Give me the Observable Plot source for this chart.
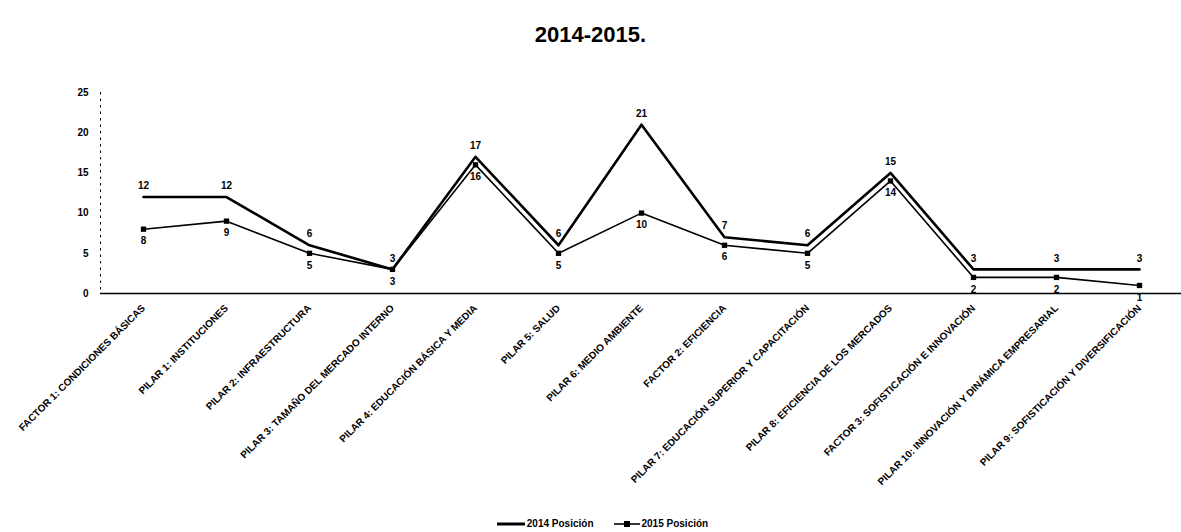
<!DOCTYPE html>
<html>
<head>
<meta charset="utf-8">
<script src="https://cdn.jsdelivr.net/npm/d3@7"></script>
<script src="https://cdn.jsdelivr.net/npm/@observablehq/plot@0.6"></script>
<style>
  html, body { margin: 0; padding: 0; background: #fff; }
  body { width: 1181px; font-family: "Liberation Sans", Arial, sans-serif; color: #000; }
  #title { height: 60px; box-sizing: border-box; padding-top: 24px; text-align: center;
           font-size: 22px; line-height: 22px; font-weight: bold; }
  #chart svg { display: block; }
  #legend { display: flex; justify-content: center; align-items: center; gap: 20px;
            font-size: 10px; font-weight: bold; margin-top: 23px; padding-left: 24px; }
  .item { display: flex; align-items: center; gap: 2px; }
</style>
</head>
<body>
<div id="title">2014-2015.</div>
<div id="chart"></div>
<div id="legend"></div>
<script>
const categories = [
  "FACTOR 1: CONDICIONES BÁSICAS",
  "PILAR 1: INSTITUCIONES",
  "PILAR 2: INFRAESTRUCTURA",
  "PILAR 3: TAMAÑO DEL MERCADO INTERNO",
  "PILAR 4: EDUCACIÓN BÁSICA Y MEDIA",
  "PILAR 5: SALUD",
  "PILAR 6: MEDIO AMBIENTE",
  "FACTOR 2: EFICIENCIA",
  "PILAR 7: EDUCACIÓN SUPERIOR Y CAPACITACIÓN",
  "PILAR 8: EFICIENCIA DE LOS MERCADOS",
  "FACTOR 3: SOFISTICACIÓN E INNOVACIÓN",
  "PILAR 10: INNOVACIÓN Y DINÁMICA EMPRESARIAL",
  "PILAR 9: SOFISTICACIÓN Y DIVERSIFICACIÓN"
];
const seriesNames = ["2014 Posición", "2015 Posición"];
const serie1 = [12, 12, 6, 3, 17, 6, 21, 7, 6, 15, 3, 3, 3];
const serie2 = [8, 9, 5, 3, 16, 5, 10, 6, 5, 14, 2, 2, 1];
const yTicks = [0, 5, 10, 15, 20, 25];

const d1 = categories.map((c, i) => ({cat: c, serie: seriesNames[0], value: serie1[i]}));
const d2 = categories.map((c, i) => ({cat: c, serie: seriesNames[1], value: serie2[i]}));

const chart = Plot.plot({
  width: 1181,
  height: 435,
  marginLeft: 100,
  marginRight: 0,
  marginTop: 32,
  marginBottom: 202,
  style: {fontFamily: "'Liberation Sans', Arial, sans-serif", fontSize: "10px", fontWeight: "bold", color: "#000", background: "#fff"},
  x: {type: "point", domain: categories, padding: 0.5, label: null},
  y: {domain: [0, 25], label: null},
  marks: [
    Plot.axisY({ticks: yTicks, tickSize: 0, tickPadding: 12, label: null}),
    Plot.axisX({tickSize: 0, tickPadding: 13, tickRotate: -45, label: null}),
    Plot.frame({anchor: "left", stroke: "#000", strokeDasharray: "1.5,5"}),
    Plot.ruleY([0], {stroke: "#000", strokeWidth: 1.3}),
    Plot.line(d1, {x: "cat", y: "value", stroke: "#000", strokeWidth: 2.6}),
    Plot.line(d2, {x: "cat", y: "value", stroke: "#000", strokeWidth: 1.6}),
    Plot.dot(d2, {x: "cat", y: "value", symbol: "square", r: 3, fill: "#000"}),
    Plot.text(d1, {x: "cat", y: "value", text: "value", dy: -11, fontWeight: "bold"}),
    Plot.text(d2, {x: "cat", y: "value", text: "value", dy: 12, fontWeight: "bold"})
  ]
});
document.getElementById("chart").appendChild(chart);

const legend = document.getElementById("legend");
legend.innerHTML = `
  <span class="item"><svg width="28" height="8"><line x1="0" x2="28" y1="4" y2="4" stroke="#000" stroke-width="3"/></svg>${seriesNames[0]}</span>
  <span class="item"><svg width="26" height="8"><line x1="0" x2="26" y1="4" y2="4" stroke="#000" stroke-width="1.6"/><rect x="10" y="1" width="6" height="6" fill="#000"/></svg>${seriesNames[1]}</span>`;
</script>
</body>
</html>
